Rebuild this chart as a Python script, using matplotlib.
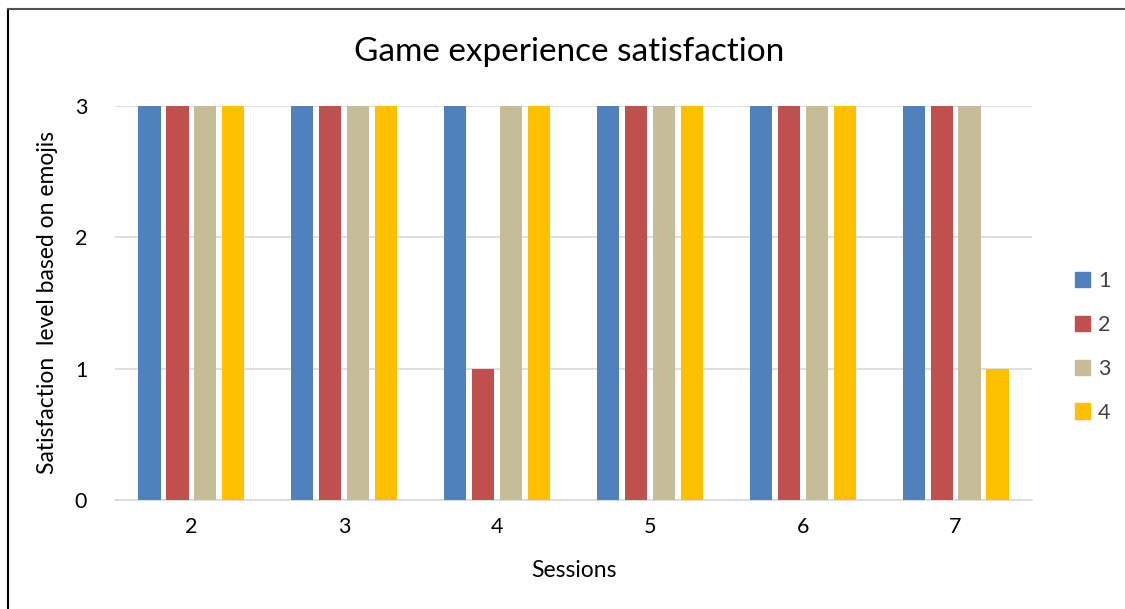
import numpy as np
import matplotlib.pyplot as plt
from matplotlib.lines import Line2D

# sessions on the x axis, one bar per player
sessions = ["2", "3", "4", "5", "6", "7"]
players = ["1", "2", "3", "4"]
player_1 = [3, 3, 3, 3, 3, 3]
player_2 = [3, 3, 1, 3, 3, 3]
player_3 = [3, 3, 3, 3, 3, 3]
player_4 = [3, 3, 3, 3, 3, 1]

series = [player_1, player_2, player_3, player_4]
colors = ["#4F81BD", "#C0504D", "#C4BD97", "#FFC000"]

plt.rcParams["font.family"] = ["Lato", "DejaVu Sans"]

fig = plt.figure(figsize=(11.25, 6.09), dpi=100)
ax = fig.add_axes([115 / 1125, 1 - 500 / 609, (1032 - 115) / 1125, (500 - 106) / 609])

x = np.arange(len(sessions))
pitch = 0.183
width = 0.145
for i, (vals, c) in enumerate(zip(series, colors)):
    ax.bar(x + (i - 1.5) * pitch, vals, width, color=c, label=players[i], zorder=3)

ax.set_xlim(-0.5, len(sessions) - 0.5)
ax.set_ylim(0, 3)
ax.set_yticks([0, 1, 2, 3])
ax.set_xticks(x)
ax.set_xticklabels(sessions)
ax.tick_params(length=0, labelsize=15.5, colors="#000000")
ax.tick_params(axis="x", pad=12)
ax.tick_params(axis="y", pad=20)
ax.grid(axis="y", color="#D9D9D9", linewidth=1.2, zorder=0)
for side in ["top", "right", "left"]:
    ax.spines[side].set_visible(False)
ax.spines["bottom"].set_color("#D9D9D9")
ax.spines["bottom"].set_linewidth(1.2)

ax.set_xlabel("Sessions", fontsize=16.5, labelpad=17)
ax.set_ylabel("Satisfaction  level based on emojis", fontsize=16.5, labelpad=12)
fig.text(569 / 1125, 1 - 52 / 609, "Game experience satisfaction", fontsize=24,
         ha="center", va="center")

handles = [plt.Rectangle((0, 0), 1, 1, color=c) for c in colors]
fig.legend(handles, players, loc="center left", bbox_to_anchor=(1056 / 1125, 1 - 347 / 609),
           frameon=False, fontsize=15.5, handlelength=0.7, handleheight=0.7,
           handletextpad=0.35, labelspacing=1.1, labelcolor="#404040")

# outer frame (only top and left edges fall inside the canvas)
fig.add_artist(Line2D([8 / 1125, 8 / 1125], [0, 1 - 9 / 609], color="#000000", linewidth=1.5))
fig.add_artist(Line2D([8 / 1125, 1], [1 - 9 / 609, 1 - 9 / 609], color="#505050", linewidth=1.5))

fig.savefig("out.png", dpi=100)
